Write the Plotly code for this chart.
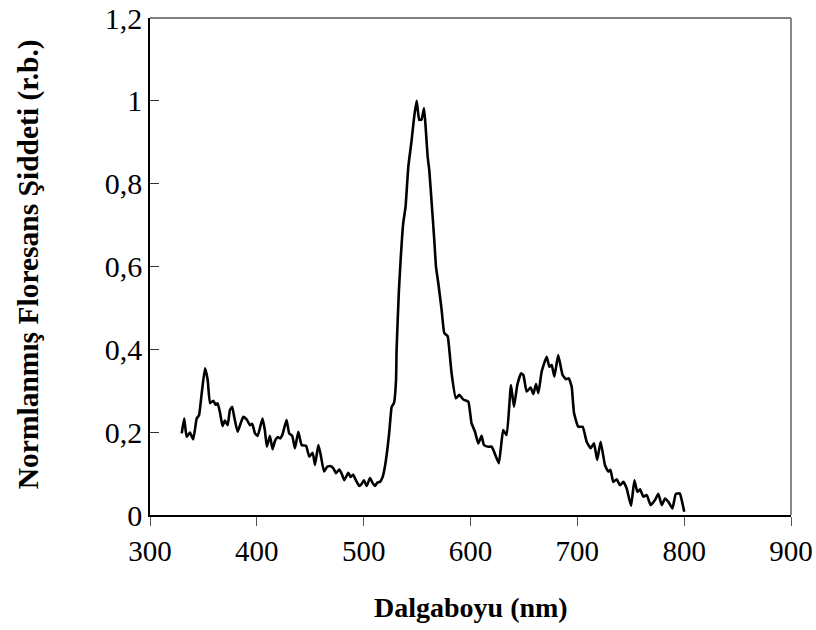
import plotly.graph_objects as go

# Normalised fluorescence emission spectrum
wavelength = [
    329.7, 332.0, 334.3, 337.4, 340.5, 343.7, 345.9, 348.4, 351.5, 354.0,
    356.2, 359.2, 361.5, 363.3, 365.4, 367.9, 370.1, 372.7, 374.8, 377.0,
    378.8, 382.0, 384.8, 387.3, 390.4, 393.6, 395.7, 398.3, 400.8, 405.3,
    407.5, 409.4, 412.2, 414.7, 417.0, 419.5, 421.6, 423.8, 427.8, 430.3,
    433.1, 435.7, 438.8, 441.9, 446.0, 449.1, 452.3, 454.4, 457.6, 459.8,
    462.9, 466.0, 469.2, 471.6, 474.1, 477.2, 479.4, 481.8, 485.6, 487.8,
    490.2, 492.7, 495.9, 498.1, 500.2, 502.8, 505.9, 508.4, 510.6, 512.7,
    515.3, 517.8, 519.9, 522.1, 524.0, 526.2, 528.4, 530.3, 530.8, 533.0,
    534.8, 537.0, 539.2, 541.8, 544.9, 547.3, 549.6, 552.0, 554.2, 556.5,
    558.0, 559.9, 561.4, 563.7, 566.1, 567.7, 569.9, 573.0, 575.5, 578.6,
    580.2, 582.3, 586.3, 589.5, 593.2, 597.9, 601.0, 604.2, 607.3, 610.4,
    612.6, 616.6, 619.8, 622.0, 626.5, 630.6, 633.8, 637.9, 640.7, 643.8,
    647.3, 649.5, 652.5, 656.3, 658.8, 661.3, 663.5, 666.6, 671.3, 673.8,
    676.0, 678.5, 682.1, 686.2, 689.4, 692.0, 694.7, 696.9, 700.9, 705.0,
    708.7, 712.5, 715.6, 718.6, 721.8, 725.9, 729.0, 731.0, 733.6, 736.8,
    740.0, 743.1, 746.2, 750.3, 753.4, 756.2, 758.7, 761.8, 765.0, 768.6,
    772.7, 775.8, 779.0, 782.1, 785.2, 789.0, 792.2, 796.0, 797.7, 800.1,
]
intensity = [
    0.197, 0.233, 0.189, 0.199, 0.183, 0.233, 0.241, 0.294, 0.354, 0.326,
    0.270, 0.276, 0.266, 0.270, 0.249, 0.215, 0.228, 0.217, 0.253, 0.261,
    0.237, 0.201, 0.221, 0.237, 0.231, 0.217, 0.220, 0.197, 0.191, 0.233,
    0.205, 0.165, 0.191, 0.159, 0.179, 0.188, 0.185, 0.193, 0.229, 0.197,
    0.191, 0.161, 0.201, 0.169, 0.167, 0.141, 0.150, 0.121, 0.169, 0.145,
    0.105, 0.117, 0.118, 0.113, 0.101, 0.110, 0.100, 0.084, 0.102, 0.092,
    0.097, 0.084, 0.070, 0.075, 0.084, 0.070, 0.089, 0.077, 0.070, 0.078,
    0.080, 0.092, 0.117, 0.157, 0.201, 0.261, 0.271, 0.326, 0.398, 0.543,
    0.624, 0.704, 0.744, 0.841, 0.905, 0.962, 1.000, 0.954, 0.955, 0.982,
    0.937, 0.865, 0.833, 0.752, 0.664, 0.599, 0.559, 0.495, 0.439, 0.432,
    0.398, 0.342, 0.282, 0.290, 0.279, 0.274, 0.221, 0.201, 0.173, 0.191,
    0.169, 0.165, 0.165, 0.153, 0.125, 0.205, 0.193, 0.314, 0.261, 0.314,
    0.342, 0.338, 0.298, 0.308, 0.292, 0.316, 0.294, 0.346, 0.382, 0.358,
    0.362, 0.334, 0.386, 0.338, 0.328, 0.330, 0.310, 0.246, 0.213, 0.213,
    0.177, 0.161, 0.173, 0.133, 0.177, 0.120, 0.105, 0.109, 0.080, 0.086,
    0.072, 0.080, 0.064, 0.022, 0.084, 0.056, 0.062, 0.044, 0.048, 0.024,
    0.036, 0.051, 0.024, 0.040, 0.032, 0.016, 0.051, 0.052, 0.036, 0.008,
]

x_ticks = [300, 400, 500, 600, 700, 800, 900]
y_ticks = [0, 0.2, 0.4, 0.6, 0.8, 1.0, 1.2]

x_title = "Dalgaboyu (nm)"
y_title = "Normlanmış Floresans Şiddeti (r.b.)"

serif = "Liberation Serif, Times New Roman, serif"

fig = go.Figure()
fig.add_trace(go.Scatter(
    x=wavelength, y=intensity, mode="lines",
    line=dict(color="black", width=2.6, shape="spline", smoothing=0.4),
    showlegend=False, hoverinfo="skip",
))

fig.update_layout(
    width=816, height=630,
    margin=dict(l=150, r=25, t=18, b=115, autoexpand=False),
    paper_bgcolor="white", plot_bgcolor="white",
    separators=",.",
    font=dict(family=serif, size=29, color="black"),
    xaxis=dict(
        range=[300, 900], tickvals=x_ticks, showgrid=False, zeroline=False,
        automargin=False,
        showline=True, linecolor="black", linewidth=1.5,
        ticks="outside", ticklen=9, tickwidth=1, tickcolor="#555",
        tickfont=dict(family=serif, size=29, color="black"),
    ),
    yaxis=dict(
        range=[0, 1.2], tickvals=y_ticks, showgrid=False, zeroline=False,
        automargin=False,
        showline=True, linecolor="black", linewidth=1.5,
        ticks="inside", ticklen=9, tickwidth=1, tickcolor="#333",
        tickfont=dict(family=serif, size=30, color="black"),
    ),
    shapes=[
        dict(type="line", xref="paper", yref="paper", x0=0, x1=1, y0=1, y1=1,
             line=dict(color="#555", width=1.5)),
        dict(type="line", xref="paper", yref="paper", x0=1, x1=1, y0=0, y1=1,
             line=dict(color="#888", width=2)),
    ],
    annotations=[
        dict(text="<b>" + x_title + "</b>", xref="paper", yref="paper",
             x=0.5, y=-0.187, xanchor="center", yanchor="middle",
             showarrow=False, font=dict(family=serif, size=28, color="black")),
        dict(text="<b>" + y_title + "</b>", xref="paper", yref="paper",
             x=-0.19, y=0.505, xanchor="center", yanchor="middle", textangle=-90,
             showarrow=False, font=dict(family=serif, size=29.5, color="black")),
    ],
)

fig.write_html("out.html")
